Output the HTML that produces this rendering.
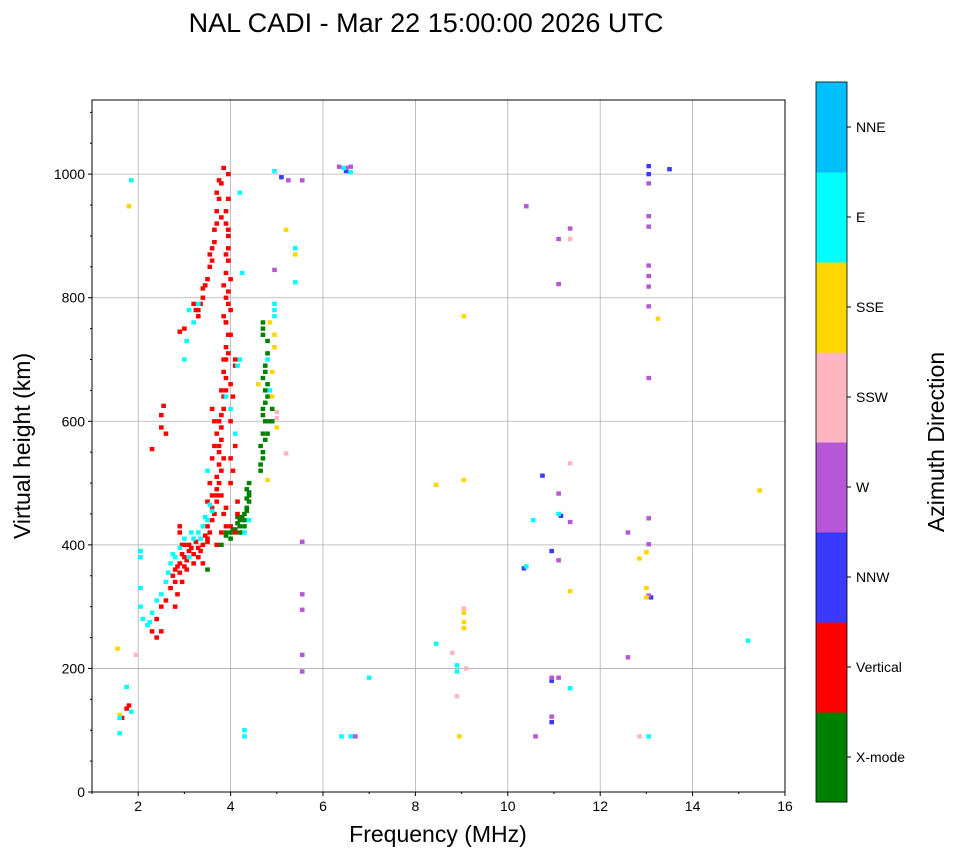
<!DOCTYPE html>
<html><head><meta charset="utf-8"><style>
body{margin:0;background:#fff;font-family:"Liberation Sans","DejaVu Sans",sans-serif}
svg text{font-family:"Liberation Sans","DejaVu Sans",sans-serif}
</style></head><body>
<svg id="chart" width="958" height="857" viewBox="0 0 958 857" xmlns="http://www.w3.org/2000/svg">
<text x="426" y="32" font-size="27" text-anchor="middle">NAL CADI - Mar 22 15:00:00 2026 UTC</text>
<g id="grid"></g><g id="marks"></g><g id="axes"></g><g id="cbar"></g>
<text x="438" y="842" font-size="23" text-anchor="middle">Frequency (MHz)</text>
<text transform="translate(30,446) rotate(-90)" font-size="23" text-anchor="middle">Virtual height (km)</text>
<text transform="translate(944,442) rotate(-90)" font-size="23" text-anchor="middle">Azimuth Direction</text>
</svg>
<script>
const categories=["X-mode","Vertical","NNW","W","SSW","SSE","E","NNE"];
const catColors=["#008000","#ff0000","#3a3aff","#b557d6","#ffb6c1","#ffd700","#00ffff","#00bfff"];
const xTicks=[2,4,6,8,10,12,14,16];
const yTicks=[0,200,400,600,800,1000];
const xmodeData=[[3.8,400],[3.9,415],[4.0,420],[4.1,425],[4.15,435],[4.2,440],[4.25,445],[4.3,450],[4.35,460],[4.4,470],[4.4,480],[4.35,490],[4.4,500],[4.65,520],[4.7,540],[4.65,560],[4.7,580],[4.75,600],[4.7,620],[4.75,650],[4.7,670],[4.75,690],[4.8,710],[4.7,740],[4.7,760],[4.9,600],[4.9,620],[4.2,430],[4.25,420],[3.9,420],[3.5,360],[4.8,580],[4.8,640],[4.0,410],[4.3,430],[4.05,425],[4.15,445],[4.3,440],[4.35,475],[4.4,485],[4.65,530],[4.7,550],[4.75,570],[4.7,610],[4.75,630],[4.8,660],[4.75,680],[4.8,730],[4.7,750],[4.85,600],[4.35,455],[4.2,420]];
const verticalData=[[1.65,120],[1.75,135],[1.8,140],[2.3,260],[2.4,250],[2.5,260],[2.4,280],[2.5,300],[2.6,310],[2.7,330],[2.8,340],[2.8,360],[2.9,355],[2.9,370],[3.0,380],[3.0,365],[3.1,390],[3.2,385],[3.3,395],[3.4,400],[3.5,410],[3.5,430],[3.6,440],[3.6,460],[3.7,470],[3.7,490],[3.7,510],[3.75,530],[3.75,550],[3.8,570],[3.8,590],[3.85,620],[3.9,650],[3.85,680],[3.9,700],[3.9,720],[3.95,740],[3.9,760],[3.95,790],[3.95,810],[3.9,840],[3.95,860],[3.95,880],[3.95,900],[3.9,920],[3.9,940],[3.2,790],[3.3,770],[3.4,800],[3.5,830],[3.55,850],[3.6,880],[3.65,910],[3.7,940],[3.7,970],[3.75,990],[3.85,1010],[3.3,780],[3.0,750],[2.9,745],[3.6,860],[3.65,890],[3.7,920],[3.4,815],[2.3,555],[2.5,590],[2.5,610],[2.55,625],[2.6,580],[3.6,620],[3.65,600],[3.7,580],[3.6,540],[3.65,560],[3.55,500],[3.6,480],[3.5,470],[4.0,600],[4.05,640],[4.0,660],[4.1,690],[4.0,740],[4.1,700],[4.1,560],[4.05,520],[4.0,500],[4.15,470],[4.15,450],[4.1,420],[4.0,430],[3.9,430],[3.8,420],[3.7,400],[3.4,370],[3.3,380],[3.2,370],[3.1,400],[3.0,400],[2.95,340],[2.85,320],[2.8,300],[2.9,430],[2.9,420],[3.5,405],[3.85,450],[3.8,480],[3.9,460],[4.0,540],[3.75,600],[3.8,650],[3.85,700],[3.9,760],[4.0,780],[4.0,830],[3.95,960],[3.95,1000],[2.75,350],[2.85,365],[2.95,385],[3.05,375],[3.15,395],[3.25,405],[3.35,390],[3.45,415],[3.55,420],[3.65,450],[3.7,480],[3.75,500],[3.8,520],[3.85,540],[3.75,560],[3.8,610],[3.85,640],[3.9,670],[3.95,710],[3.85,770],[3.9,800],[3.85,820],[3.9,870],[3.95,910],[3.8,930],[3.75,960],[3.8,985],[3.55,870],[3.45,820],[3.35,790],[3.25,780],[2.95,400],[3.05,360]];
const nnwData=[[10.75,512],[10.95,390],[10.95,180],[10.95,113],[10.35,362],[13.05,1013],[13.05,1000],[13.5,1008],[6.5,1005],[11.15,447],[13.1,315],[5.1,995]];
const wData=[[5.55,990],[6.35,1012],[6.5,1010],[6.6,1012],[6.7,90],[5.55,320],[5.55,295],[5.55,222],[5.55,195],[5.55,405],[10.4,948],[11.1,895],[11.35,912],[11.1,822],[11.1,483],[11.35,437],[11.1,375],[10.95,185],[11.1,185],[10.95,122],[10.6,90],[12.6,420],[12.6,218],[13.05,985],[13.05,915],[13.05,852],[13.05,835],[13.05,818],[13.05,786],[13.05,670],[13.05,443],[13.05,401],[13.05,318],[13.05,932],[4.95,845],[5.25,990]];
const sswData=[[1.95,222],[5.0,605],[5.0,615],[5.2,548],[9.05,297],[9.05,265],[9.1,200],[8.9,155],[8.8,225],[11.35,532],[11.35,895],[12.85,90]];
const sseData=[[1.8,948],[1.55,232],[1.6,125],[4.95,720],[4.95,740],[4.85,760],[4.9,680],[4.9,640],[5.0,590],[4.8,505],[5.4,870],[5.2,910],[9.05,770],[8.45,497],[9.05,505],[9.05,275],[9.05,265],[9.05,290],[8.95,90],[11.35,325],[12.85,378],[13.0,388],[13.0,330],[13.0,315],[13.25,766],[15.45,488],[4.6,660]];
const eData=[[1.6,120],[1.6,95],[1.75,170],[1.85,130],[2.05,300],[2.05,330],[2.05,380],[2.2,270],[2.3,290],[2.4,310],[2.5,320],[2.6,340],[2.7,370],[2.8,380],[2.9,395],[3.0,410],[3.1,380],[3.2,410],[3.3,420],[3.4,430],[3.5,440],[3.6,455],[3.5,520],[3.0,700],[3.05,730],[3.2,760],[3.3,790],[3.1,780],[4.2,700],[4.15,690],[3.9,640],[4.0,620],[4.1,580],[4.95,770],[4.95,790],[4.8,700],[4.85,650],[4.4,440],[4.3,420],[4.25,840],[4.2,970],[4.95,1005],[5.4,825],[5.4,880],[6.45,1010],[6.6,1003],[6.4,90],[6.6,90],[7.0,185],[8.45,240],[8.9,195],[8.9,205],[10.4,365],[10.55,440],[11.1,450],[11.35,168],[13.05,90],[15.2,245],[4.3,100],[4.3,90],[1.85,990],[2.05,390],[2.1,280],[2.25,275],[2.65,355],[2.75,385],[3.15,420],[3.35,410],[3.45,445],[3.55,465],[4.95,780]];
const nneData=[];
const seriesData=[xmodeData,verticalData,nnwData,wData,sswData,sseData,eData,nneData];

const NS="http://www.w3.org/2000/svg";
const L=92,R=785,T=100,B=792,X0=1,X1=16,Y0=0,Y1=1120;
const sx=v=>L+(v-X0)/(X1-X0)*(R-L);
const sy=v=>B-(v-Y0)/(Y1-Y0)*(B-T);
function mk(tag,attrs,parent){const e=document.createElementNS(NS,tag);for(const k in attrs)e.setAttribute(k,attrs[k]);parent.appendChild(e);return e;}
const grid=document.getElementById('grid'),marks=document.getElementById('marks'),axes=document.getElementById('axes'),cbar=document.getElementById('cbar');
xTicks.forEach(t=>{const x=sx(t);
 if(t<X1){const g=mk('line',{x1:x,x2:x,y1:T,y2:B,stroke:'#b0b0b0','stroke-width':0.8},grid);}
 mk('line',{x1:x,x2:x,y1:B,y2:B+4,stroke:'#000'},axes);
 const tx=mk('text',{x:x,y:B+19,'font-size':14,'text-anchor':'middle'},axes);tx.textContent=t;
 });
for(let t=1;t<16;t+=2){const x=sx(t);mk('line',{x1:x,x2:x,y1:B,y2:B+2,stroke:'#000'},axes);}
yTicks.forEach(t=>{const y=sy(t);
 if(t>0){const g=mk('line',{x1:L,x2:R,y1:y,y2:y,stroke:'#b0b0b0','stroke-width':0.8},grid);}
 mk('line',{x1:L-4,x2:L,y1:y,y2:y,stroke:'#000'},axes);
 const tx=mk('text',{x:L-7,y:y+5,'font-size':14,'text-anchor':'end'},axes);tx.textContent=t;
 });
for(let t=50;t<1120;t+=50){if(t%200)mk('line',{x1:L-2,x2:L,y1:sy(t),y2:sy(t),stroke:'#000'},axes);}
const fr=mk('rect',{x:L,y:T,width:R-L,height:B-T,fill:'none',stroke:'#000','stroke-width':1},axes);

const cw=0.1,ch=7;
seriesData.forEach((arr,ci)=>{arr.forEach(p=>{
 const r=mk('rect',{x:sx(p[0]-cw/2),y:sy(p[1]+ch/2),width:sx(cw)-sx(0),height:sy(0)-sy(ch),fill:catColors[ci]},marks);
 
 });});
const cx=816,cwid=31,ct=82,cb=802,seg=(cb-ct)/categories.length;
categories.forEach((c,i)=>{const y=cb-(i+1)*seg;
 const r=mk('rect',{x:cx,y:y,width:cwid,height:seg+0.5,fill:catColors[i]},cbar);
 
 mk('line',{x1:cx+cwid,x2:cx+cwid+4,y1:y+seg/2,y2:y+seg/2,stroke:'#000'},cbar);
 const t=mk('text',{x:cx+cwid+9,y:y+seg/2+5,'font-size':14},cbar);t.textContent=c;
 });
mk('rect',{x:cx,y:ct,width:cwid,height:cb-ct,fill:'none',stroke:'#000','stroke-width':0.8},cbar);
</script>
</body></html>
